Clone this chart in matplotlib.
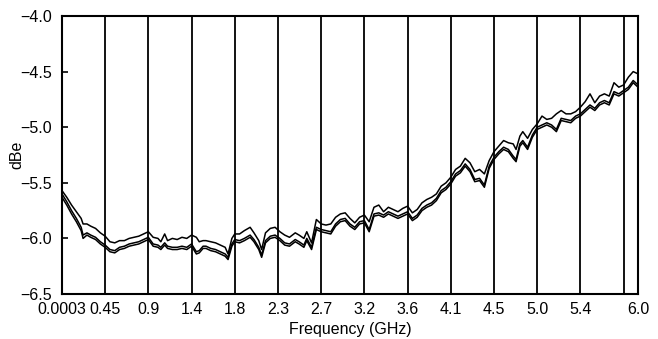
import numpy as np
import matplotlib
matplotlib.use('Agg')
import matplotlib.pyplot as plt

plt.rcParams['font.family'] = ['Liberation Sans Narrow', 'Liberation Sans', 'DejaVu Sans']
plt.rcParams['axes.unicode_minus'] = True

# frequency points (GHz)
freq = [0.0003, 0.05, 0.1, 0.15, 0.2, 0.22, 0.26, 0.3, 0.35, 0.4, 0.45, 0.5, 0.55, 0.6, 0.65, 0.7, 0.75, 0.8, 0.85, 0.9,
        0.95, 1.0, 1.03, 1.07, 1.1, 1.15, 1.2, 1.25, 1.3, 1.35, 1.4, 1.43, 1.47, 1.5, 1.55, 1.6, 1.65, 1.7, 1.73, 1.77, 1.8,
        1.85, 1.9, 1.96, 2.0, 2.05, 2.08, 2.12, 2.17, 2.22, 2.27, 2.32, 2.37, 2.43, 2.47, 2.52, 2.55, 2.6, 2.65, 2.7,
        2.75, 2.8, 2.85, 2.9, 2.95, 3.0, 3.05, 3.1, 3.15, 3.2, 3.25, 3.3, 3.35, 3.4, 3.45, 3.5, 3.55, 3.6,
        3.65, 3.7, 3.75, 3.8, 3.85, 3.9, 3.95, 4.0, 4.05, 4.1, 4.15, 4.2, 4.25, 4.3, 4.35, 4.4, 4.45, 4.5,
        4.55, 4.6, 4.65, 4.7, 4.73, 4.77, 4.8, 4.85, 4.9, 4.95, 5.0, 5.05, 5.1, 5.15, 5.2, 5.25, 5.3, 5.35, 5.4,
        5.45, 5.5, 5.55, 5.6, 5.65, 5.7, 5.75, 5.8, 5.85, 5.9, 5.95, 6.0]

upper = [-5.57, -5.63, -5.70, -5.76, -5.82, -5.87, -5.87, -5.89, -5.91, -5.95, -5.98, -6.03, -6.04, -6.02, -6.02, -6.00, -5.99, -5.98, -5.96, -5.94,
         -5.99, -6.00, -6.03, -5.96, -6.02, -6.00, -6.01, -5.99, -6.00, -5.97, -5.99, -6.03, -6.02, -6.02, -6.03, -6.04, -6.06, -6.08, -6.14, -6.00, -5.96,
         -5.96, -5.93, -5.90, -5.95, -6.02, -6.10, -5.95, -5.91, -5.90, -5.94, -5.97, -5.99, -5.95, -5.97, -6.00, -5.94, -6.04, -5.83, -5.87,
         -5.88, -5.87, -5.81, -5.78, -5.77, -5.82, -5.86, -5.81, -5.79, -5.85, -5.72, -5.70, -5.76, -5.72, -5.74, -5.76, -5.73, -5.71,
         -5.77, -5.74, -5.68, -5.65, -5.63, -5.60, -5.53, -5.50, -5.45, -5.38, -5.35, -5.28, -5.32, -5.40, -5.38, -5.42, -5.30, -5.22,
         -5.17, -5.12, -5.14, -5.15, -5.20, -5.08, -5.04, -5.10, -5.02, -4.97, -4.90, -4.93, -4.92, -4.88, -4.85, -4.88, -4.88, -4.86, -4.82,
         -4.77, -4.70, -4.78, -4.72, -4.70, -4.72, -4.60, -4.64, -4.62, -4.55, -4.50, -4.52]

middle = [-5.60, -5.67, -5.75, -5.82, -5.90, -5.97, -5.95, -5.97, -5.99, -6.03, -6.06, -6.10, -6.11, -6.08, -6.07, -6.05, -6.04, -6.03, -6.01, -5.99,
          -6.05, -6.06, -6.08, -6.04, -6.07, -6.08, -6.08, -6.07, -6.08, -6.05, -6.12, -6.11, -6.07, -6.07, -6.09, -6.10, -6.12, -6.14, -6.17, -6.05, -6.01,
          -6.02, -6.00, -5.97, -6.01, -6.08, -6.15, -6.02, -5.98, -5.97, -6.00, -6.04, -6.05, -6.01, -6.03, -6.06, -6.00, -6.08, -5.90, -5.92,
          -5.93, -5.94, -5.87, -5.83, -5.82, -5.87, -5.90, -5.85, -5.84, -5.92, -5.78, -5.77, -5.79, -5.76, -5.78, -5.80, -5.78, -5.76,
          -5.82, -5.79, -5.73, -5.70, -5.68, -5.64, -5.57, -5.54, -5.49, -5.42, -5.39, -5.33, -5.38, -5.47, -5.46, -5.52, -5.35, -5.27,
          -5.22, -5.18, -5.20, -5.26, -5.29, -5.15, -5.12, -5.18, -5.07, -5.00, -4.98, -4.96, -4.98, -5.02, -4.92, -4.93, -4.94, -4.90, -4.88,
          -4.84, -4.80, -4.83, -4.78, -4.76, -4.78, -4.68, -4.70, -4.67, -4.64, -4.58, -4.62]

lower = [-5.63, -5.70, -5.78, -5.85, -5.93, -6.00, -5.97, -5.99, -6.01, -6.05, -6.08, -6.12, -6.13, -6.10, -6.09, -6.07, -6.06, -6.05, -6.03, -6.01,
         -6.07, -6.08, -6.10, -6.06, -6.09, -6.10, -6.10, -6.09, -6.10, -6.07, -6.14, -6.13, -6.09, -6.09, -6.11, -6.12, -6.14, -6.16, -6.19, -6.07, -6.03,
         -6.04, -6.02, -5.99, -6.03, -6.10, -6.17, -6.04, -6.00, -5.99, -6.02, -6.06, -6.07, -6.03, -6.05, -6.08, -6.02, -6.10, -5.92, -5.94,
         -5.95, -5.96, -5.89, -5.85, -5.84, -5.89, -5.92, -5.87, -5.86, -5.94, -5.80, -5.79, -5.81, -5.78, -5.80, -5.82, -5.80, -5.78,
         -5.84, -5.81, -5.75, -5.72, -5.70, -5.66, -5.59, -5.56, -5.51, -5.44, -5.41, -5.35, -5.40, -5.49, -5.48, -5.54, -5.37, -5.29,
         -5.24, -5.20, -5.22, -5.28, -5.31, -5.17, -5.14, -5.20, -5.09, -5.02, -5.00, -4.98, -5.00, -5.04, -4.94, -4.95, -4.96, -4.92, -4.90,
         -4.86, -4.82, -4.85, -4.80, -4.78, -4.80, -4.70, -4.72, -4.69, -4.66, -4.60, -4.64]

grid_pos = [0.45, 0.9, 1.35, 1.8, 2.25, 2.7, 3.15, 3.6, 4.05, 4.5, 4.95, 5.4, 5.85]
xtick_pos = [0.0003, 0.45, 0.9, 1.35, 1.8, 2.25, 2.7, 3.15, 3.6, 4.05, 4.5, 4.95, 5.4, 6.0]
xtick_labels = ['0.0003', '0.45', '0.9', '1.4', '1.8', '2.3', '2.7', '3.2', '3.6', '4.1', '4.5', '5.0', '5.4', '6.0']
yticks = [-6.5, -6.0, -5.5, -5.0, -4.5, -4.0]

fig = plt.figure(figsize=(6.58, 3.39), dpi=100)
ax = fig.add_axes([0.0942, 0.1327, 0.8754, 0.8201])

for g in grid_pos:
    ax.axvline(g, color='black', lw=1.3, zorder=1)

ax.plot(freq, upper, color='black', lw=1.1, zorder=3)
ax.plot(freq, middle, color='black', lw=1.1, zorder=3)
ax.plot(freq, lower, color='black', lw=1.1, zorder=3)

ax.set_xlim(0.0003, 6.0)
ax.set_ylim(-6.5, -4.0)
ax.set_xticks(xtick_pos)
ax.set_xticklabels(xtick_labels)
ax.set_yticks(yticks)
ax.set_yticklabels(['\u22126.5', '\u22126.0', '\u22125.5', '\u22125.0', '\u22124.5', '\u22124.0'])
ax.tick_params(axis='x', length=0, pad=6, labelsize=11.5)
ax.tick_params(axis='y', direction='in', length=4, width=1.2, pad=7, labelsize=11.5)
for s in ax.spines.values():
    s.set_linewidth(1.5)

ax.set_xlabel('Frequency (GHz)', fontsize=11.5, labelpad=3)
ax.set_ylabel('dBe', fontsize=11.5)
ax.yaxis.set_label_coords(-0.066, 0.5)

fig.savefig('out.png', dpi=100)
